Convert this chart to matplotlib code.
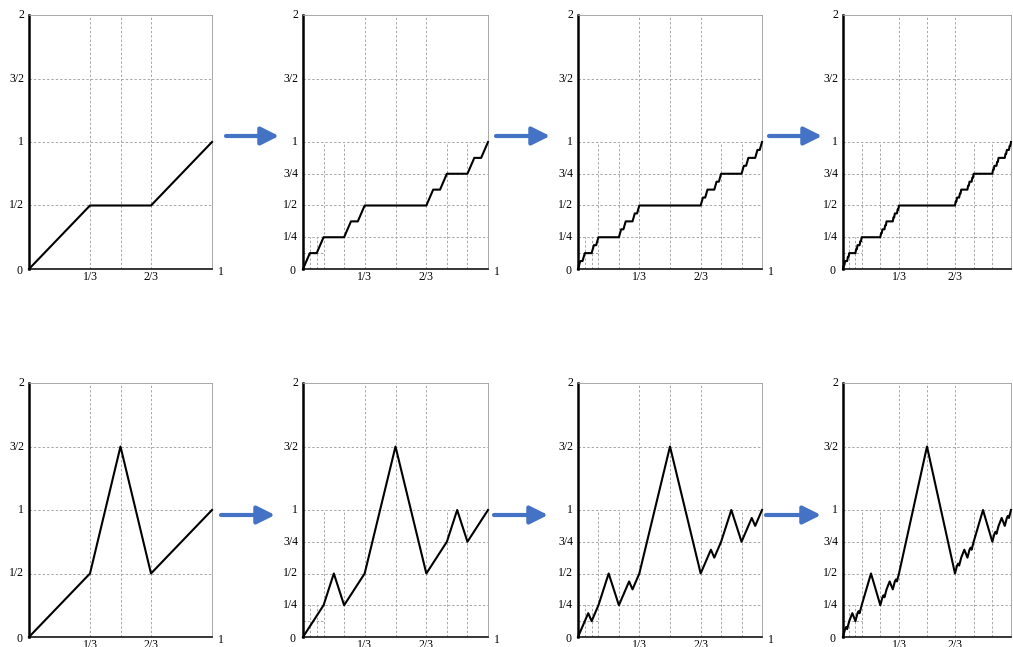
import matplotlib
matplotlib.use('Agg')
import matplotlib.pyplot as plt

W, H = 1013, 647

# top row: Cantor staircase. x in units of 1/3**n, y in units of 1/2**n
cantor1_x = [0, 1, 2, 3]
cantor1_y = [0, 1, 1, 2]

cantor3_x = [0, 1, 2, 3, 6, 7, 8, 9, 18, 19, 20, 21, 24, 25, 26, 27]
cantor3_y = [0, 1, 1, 2, 2, 3, 3, 4, 4, 5, 5, 6, 6, 7, 7, 8]

cantor4_x = [0, 1, 2, 3, 6, 7, 8, 9, 18, 19, 20, 21, 24, 25, 26, 27,
             54, 55, 56, 57, 60, 61, 62, 63, 72, 73, 74, 75, 78, 79, 80, 81]
cantor4_y = [0, 1, 1, 2, 2, 3, 3, 4, 4, 5, 5, 6, 6, 7, 7, 8,
             8, 9, 9, 10, 10, 11, 11, 12, 12, 13, 13, 14, 14, 15, 15, 16]

cantor5_x = [0, 1, 2, 3, 6, 7, 8, 9, 18, 19, 20, 21, 24, 25, 26, 27,
             54, 55, 56, 57, 60, 61, 62, 63, 72, 73, 74, 75, 78, 79, 80, 81,
             162, 163, 164, 165, 168, 169, 170, 171, 180, 181, 182, 183, 186, 187, 188, 189,
             216, 217, 218, 219, 222, 223, 224, 225, 234, 235, 236, 237, 240, 241, 242, 243]
cantor5_y = [0, 1, 1, 2, 2, 3, 3, 4, 4, 5, 5, 6, 6, 7, 7, 8,
             8, 9, 9, 10, 10, 11, 11, 12, 12, 13, 13, 14, 14, 15, 15, 16,
             16, 17, 17, 18, 18, 19, 19, 20, 20, 21, 21, 22, 22, 23, 23, 24,
             24, 25, 25, 26, 26, 27, 27, 28, 28, 29, 29, 30, 30, 31, 31, 32]

# bottom row: staircase with bumps. x in units of 1/(2*3**n), y in units of 1/4**n
bump1_x = [0, 2, 3, 4, 6]
bump1_y = [0, 1, 3, 1, 2]

bump2_x = [0, 2, 3, 4, 6, 9, 12, 14, 15, 16, 18]
bump2_y = [0, 1, 2, 1, 2, 6, 2, 3, 4, 3, 4]

bump3_x = [0, 2, 3, 4, 6, 9, 12, 14, 15, 16, 18, 27,
           36, 38, 39, 40, 42, 45, 48, 50, 51, 52, 54]
bump3_y = [0, 2, 3, 2, 4, 8, 4, 6, 7, 6, 8, 24,
           8, 10, 11, 10, 12, 16, 12, 14, 15, 14, 16]

bump4_x = [0, 2, 3, 4, 6, 9, 12, 14, 15, 16, 18, 27, 36, 38, 39, 40, 42, 45, 48, 50, 51, 52, 54,
           81,
           108, 110, 111, 112, 114, 117, 120, 122, 123, 124, 126, 135, 144, 146, 147, 148, 150,
           153, 156, 158, 159, 160, 162]
bump4_y = [0, 4, 5, 4, 8, 12, 8, 12, 13, 12, 16, 32, 16, 20, 21, 20, 24, 28, 24, 28, 29, 28, 32,
           96,
           32, 36, 37, 36, 40, 44, 40, 44, 45, 44, 48, 64, 48, 52, 53, 52, 56, 60, 56, 60, 61, 60, 64]

top_curves = [(cantor1_x, 3, cantor1_y, 2), (cantor3_x, 27, cantor3_y, 8),
              (cantor4_x, 81, cantor4_y, 16), (cantor5_x, 243, cantor5_y, 32)]
bottom_curves = [(bump1_x, 6, bump1_y, 2), (bump2_x, 18, bump2_y, 4),
                 (bump3_x, 54, bump3_y, 16), (bump4_x, 162, bump4_y, 64)]

# panel edges in pixels
columns = [(29, 212), (303, 488), (578, 762), (843, 1011)]
rows = [(15, 269), (383, 637)]

plt.rcParams['font.family'] = ['Liberation Serif', 'DejaVu Serif']
fig = plt.figure(figsize=(W / 100, H / 100), dpi=100)

GRID = dict(color='#a8a8a8', lw=0.7, ls=(0, (2.5, 2)), zorder=1)


def draw_grid(ax, fine):
    for x in [1 / 3, 1 / 2, 2 / 3]:
        ax.plot([x, x], [0, 2], **GRID)
    for y in [1 / 2, 1, 3 / 2]:
        ax.plot([0, 1], [y, y], **GRID)
    if fine:
        for x in [1 / 9, 2 / 9, 7 / 9, 8 / 9]:
            ax.plot([x, x], [0, 1], **GRID)
        for y in [1 / 4, 3 / 4]:
            ax.plot([0, 1], [y, y], **GRID)
        for x in [1 / 27, 2 / 27]:
            ax.plot([x, x], [0, 1 / 4], **GRID)
        ax.plot([0, 1 / 9], [1 / 8, 1 / 8], **GRID)


def label_axes(ax, fine, last, pxw, pxh):
    fs = 8.5
    dx = 5 / pxw
    ylabels = [(2, '2'), (1.5, '3/2'), (1, '1'), (0.5, '1/2')]
    if fine:
        ylabels += [(0.75, '3/4'), (0.25, '1/4')]
    for y, s in ylabels:
        ax.text(-dx, y, s, ha='right', va='center', fontsize=fs, clip_on=False)
    ax.text(-dx - 2 / pxw, -4 / pxh, '0', ha='right', va='center', fontsize=fs, clip_on=False)
    for x, s in [(1 / 3, '1/3'), (2 / 3, '2/3')]:
        ax.text(x, -5 / pxh, s, ha='center', va='top', fontsize=fs, clip_on=False)
    if not last:
        # the last panel's "1" falls outside the picture
        ax.text(1 + 9 / pxw, -6 / pxh, '1', ha='center', va='center', fontsize=fs,
                clip_on=False)


for (top, bottom), curves in zip(rows, [top_curves, bottom_curves]):
    for i, ((left, right), (xs, xd, ys, yd)) in enumerate(zip(columns, curves)):
        ax = fig.add_axes([left / W, 1 - bottom / H, (right - left) / W, (bottom - top) / H])
        ax.set_xlim(0, 1)
        ax.set_ylim(0, 2)
        ax.set_xticks([])
        ax.set_yticks([])
        for s in ['top', 'right']:
            ax.spines[s].set_color('#9a9a9a')
            ax.spines[s].set_linewidth(0.6)
        ax.spines['left'].set_color('black')
        ax.spines['left'].set_linewidth(1.8)
        ax.spines['bottom'].set_color('black')
        ax.spines['bottom'].set_linewidth(1.1)
        fine = i > 0
        draw_grid(ax, fine)
        ax.plot([v / xd for v in xs], [v / yd for v in ys], color='black', lw=1.5,
                zorder=3, clip_on=False)
        label_axes(ax, fine, i == len(columns) - 1, right - left, bottom - top)

# arrows between panels
over = fig.add_axes([0, 0, 1, 1])
over.set_xlim(0, W)
over.set_ylim(H, 0)
over.axis('off')
arrows = [(226, 279, 136), (496, 550, 136), (769, 822, 136),
          (221, 275, 515), (494, 548, 515), (766, 821, 515)]
for x0, x1, y in arrows:
    over.annotate('', xy=(x1, y), xytext=(x0, y),
                  arrowprops=dict(arrowstyle='-|>,head_length=0.9,head_width=0.45',
                                  color='#4472C4', lw=3, mutation_scale=12,
                                  shrinkA=0, shrinkB=0))

fig.savefig('out.png', dpi=100)
